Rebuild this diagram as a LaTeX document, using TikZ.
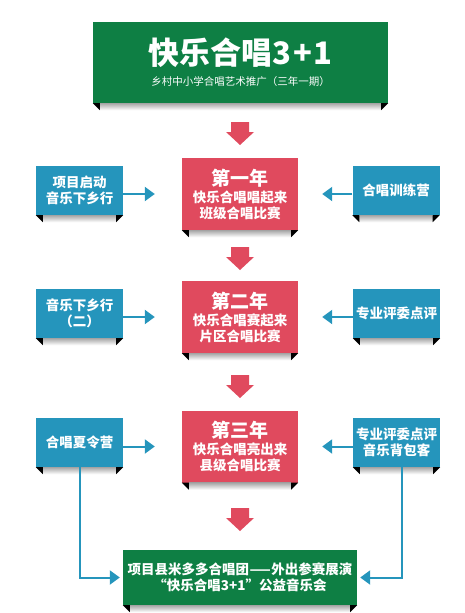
\documentclass[tikz,border=0pt]{standalone}
\usepackage{fontspec}
\setmainfont{Noto Sans CJK SC}
\usetikzlibrary{arrows.meta}
\definecolor{greenc}{RGB}{14,127,68}
\definecolor{redc}{RGB}{224,74,94}
\definecolor{bluec}{RGB}{37,149,188}
\tikzset{
  base/.style={inner sep=0pt, align=center, text=white, font=\bfseries\fontsize{13.5}{16}\selectfont},
  redbox/.style={base, fill=redc, minimum width=116pt, minimum height=72pt},
  bluebox/.style={base, fill=bluec, minimum width=87pt, minimum height=49pt},
  greenbox/.style={base, fill=greenc},
  link/.style={draw=bluec, line width=2pt, -{Triangle[length=10pt,width=14pt]}},
}
\newcommand\boxshade[1]{%
  \shade[top color=black!35, bottom color=white] ([xshift=7pt]#1.south west) rectangle ([xshift=-7pt,yshift=-7pt]#1.south east);
  \fill[black] (#1.south west) -- ([xshift=7pt]#1.south west) -- ([xshift=7pt,yshift=-7pt]#1.south west) -- cycle;
  \fill[black] (#1.south east) -- ([xshift=-7pt]#1.south east) -- ([xshift=-7pt,yshift=-7pt]#1.south east) -- cycle;
}
\newcommand\blockarrow[2]{%
  \fill[redc] (#1-9,#2) -- (#1+9,#2) -- (#1+9,#2+10) -- (#1+14,#2+10) -- (#1,#2+23) -- (#1-14,#2+10) -- (#1-9,#2+10) -- cycle;
}
\begin{document}
\begin{tikzpicture}[x=1pt,y=-1pt]
\useasboundingbox (0,0) rectangle (465,613);
% title
\node[greenbox, minimum width=295pt, minimum height=81pt, font=\fontsize{10.5}{13}\selectfont] (top) at (240.5,62.5)
  {{\bfseries\fontsize{31}{31}\selectfont 快乐合唱3\hspace{2pt}+\hspace{2pt}1}\\[8pt]乡村中小学合唱艺术推广（三年一期）};
% year boxes
\node[redbox] (r1) at (240,194) {{\fontsize{19}{19}\selectfont 第一年}\\[1pt]快乐合唱唱起来\\班级合唱比赛};
\node[redbox] (r2) at (240,317) {{\fontsize{19}{19}\selectfont 第二年}\\[1pt]快乐合唱赛起来\\片区合唱比赛};
\node[redbox] (r3) at (240,446.5) {{\fontsize{19}{19}\selectfont 第三年}\\[1pt]快乐合唱亮出来\\县级合唱比赛};
% side boxes
\node[bluebox] (l1) at (79.5,190.5) {项目启动\\音乐下乡行};
\node[bluebox] (s1) at (396,190.5) {合唱训练营};
\node[bluebox] (l2) at (79.5,313.5) {音乐下乡行\\（二）};
\node[bluebox] (s2) at (396.5,313.5) {专业评委点评};
\node[bluebox] (l3) at (79.5,442.5) {合唱夏令营};
\node[bluebox] (s3) at (396.5,442.5) {专业评委点评\\音乐背包客};
% final box
\node[greenbox, minimum width=234pt, minimum height=55pt] (fin) at (240,577.5)
  {项目县米多多合唱团\scalebox{1.8}[1]{—}外出参赛展演\\“快乐合唱3+1”公益音乐会};
% shadows
\boxshade{top}
\boxshade{r1}\boxshade{r2}\boxshade{r3}
\boxshade{l1}\boxshade{l2}\boxshade{l3}
\boxshade{s1}\boxshade{s2}\boxshade{s3}
\boxshade{fin}
% block arrows
\blockarrow{240}{122}
\blockarrow{240}{247}
\blockarrow{240}{375}
\blockarrow{240}{508}
% connectors
\draw[link] (l1.east |- r1.center) -- ([xshift=-27pt]r1.west);
\draw[link] (s1.west |- r1.center) -- ([xshift=24pt]r1.east);
\draw[link] (l2.east |- r2.center) -- ([xshift=-27pt]r2.west);
\draw[link] (s2.west |- r2.center) -- ([xshift=24pt]r2.east);
\draw[link] (l3.east |- r3.center) -- ([xshift=-27pt]r3.west);
\draw[link] (s3.west |- r3.center) -- ([xshift=24pt]r3.east);
\draw[link] (l3.south) -- (l3.south |- fin.west) -- ([xshift=-3pt]fin.west);
\draw[link] ([xshift=5.5pt]s3.south) -- ([xshift=5.5pt]s3.south |- fin.east) -- ([xshift=3pt]fin.east);
\end{tikzpicture}
\end{document}
